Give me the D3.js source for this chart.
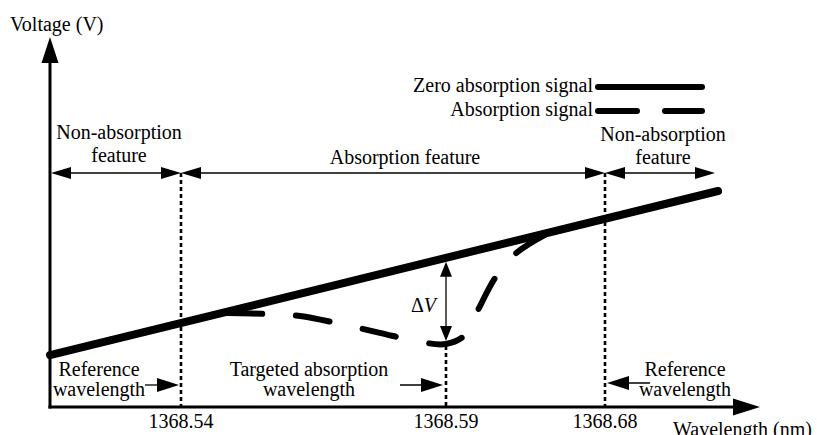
<!DOCTYPE html>
<html>
<head>
<meta charset="utf-8">
<script src="https://cdn.jsdelivr.net/npm/d3@7/dist/d3.min.js"></script>
<style>
  html, body { margin: 0; padding: 0; background: #fff; }
  svg { display: block; }
  text { font-family: "Liberation Serif", "Times New Roman", serif; font-size: 20px; fill: #000; }
</style>
</head>
<body>
<svg id="chart" width="817" height="435"></svg>
<script>
// ---------------- data ----------------
const wlKnots = [1368.50, 1368.54, 1368.59, 1368.68, 1368.72];
const tickWavelengths = [1368.54, 1368.59, 1368.68];
const tickLabels = ["1368.54", "1368.59", "1368.68"];

const zeroWl = [1368.50, 1368.72];
const zeroV = [14.4, 60.0];

const absorbWl = [1368.5489, 1368.5568, 1368.5625, 1368.5700, 1368.5775, 1368.5851, 1368.5900,
                  1368.6008, 1368.6081, 1368.6177, 1368.6291, 1368.6460];
const absorbV = [26.1, 25.8, 25.3, 23.1, 20.6, 18.1, 17.5, 20.0, 26.9, 35.8, 42.5, 47.8];

const legendLabels = ["Zero absorption signal", "Absorption signal"];
const regionLabels = [["Non-absorption", "feature"], ["Absorption feature"], ["Non-absorption", "feature"]];
const refLabels = [["Reference", "wavelength"], ["Targeted absorption", "wavelength"], ["Reference", "wavelength"]];
const axisTitles = { y: "Voltage (V)", x: "Wavelength (nm)" };

// ---------------- layout ----------------
const svg = d3.select("#chart");
const X0 = 50, Y0 = 407, YTOP = 37, XEND = 760;
const x = d3.scaleLinear().domain(wlKnots).range([50, 181, 446, 605, 718]);
const y = d3.scaleLinear().domain([0, 100]).range([407, 47]);

function tri(points) {
  svg.append("path").attr("d", "M" + points.map(p => p.join(",")).join("L") + "Z").attr("fill", "#000");
}
function arrowHead(tx, ty, dir, len, half) {
  if (dir === "r") tri([[tx, ty], [tx - len, ty - half], [tx - len, ty + half]]);
  if (dir === "l") tri([[tx, ty], [tx + len, ty - half], [tx + len, ty + half]]);
  if (dir === "u") tri([[tx, ty], [tx - half, ty + len], [tx + half, ty + len]]);
  if (dir === "d") tri([[tx, ty], [tx - half, ty - len], [tx + half, ty - len]]);
}

// axes
svg.append("line").attr("x1", X0).attr("x2", X0).attr("y1", Y0 + 1.5).attr("y2", YTOP + 20)
  .attr("stroke", "#000").attr("stroke-width", 3);
arrowHead(X0, YTOP, "u", 26, 8.5);
svg.append("line").attr("x1", X0 - 1.5).attr("x2", XEND - 20).attr("y1", Y0).attr("y2", Y0)
  .attr("stroke", "#000").attr("stroke-width", 3);
arrowHead(XEND, Y0, "r", 27, 8.5);

svg.append("text").attr("x", 10).attr("y", 31).text(axisTitles.y);
svg.append("text").attr("x", 673).attr("y", 436).text(axisTitles.x);

// tick labels
tickWavelengths.forEach((w, i) => {
  svg.append("text").attr("x", x(w)).attr("y", 428).attr("text-anchor", "middle").text(tickLabels[i]);
});

// dotted vertical markers
const dotted = { stroke: "#000", "stroke-width": 2.6, "stroke-dasharray": "4 3" };
function vdot(xp, y1, y2) {
  const l = svg.append("line").attr("x1", xp).attr("x2", xp).attr("y1", y1).attr("y2", y2);
  Object.entries(dotted).forEach(([k, v]) => l.attr(k, v));
}
const ROW = 173;
vdot(x(tickWavelengths[0]), ROW, Y0);
vdot(x(tickWavelengths[2]), ROW, Y0);
const minV = d3.min(absorbV);
vdot(x(tickWavelengths[1]), y(minV) + 2, Y0);

// feature double arrows
const spans = [[wlKnots[0], wlKnots[1]], [wlKnots[1], wlKnots[3]], [wlKnots[3], wlKnots[4]]];
spans.forEach(([a, b], i) => {
  const xa = x(a) + (i === 0 ? 1 : 0), xb = x(b) - (i === 2 ? 3 : 0);
  svg.append("line").attr("x1", xa + 5).attr("x2", xb - 5).attr("y1", ROW).attr("y2", ROW)
    .attr("stroke", "#000").attr("stroke-width", 1.3);
  arrowHead(xa, ROW, "l", 20, 6);
  arrowHead(xb, ROW, "r", 20, 6);
});
const regionPos = [{ cx: 119, b: [139, 162] }, { cx: 405, b: [164] }, { cx: 663, b: [141, 164] }];
regionLabels.forEach((lines, i) => {
  lines.forEach((t, j) => {
    svg.append("text").attr("x", regionPos[i].cx).attr("y", regionPos[i].b[j])
      .attr("text-anchor", "middle").text(t);
  });
});

// legend
const legY = [87, 111];
legendLabels.forEach((t, i) => {
  svg.append("text").attr("x", 593).attr("y", legY[i] + 4.5).attr("text-anchor", "end").text(t);
  const l = svg.append("line").attr("x1", 598).attr("x2", 702).attr("y1", legY[i]).attr("y2", legY[i])
    .attr("stroke", "#000").attr("stroke-width", 6).attr("stroke-linecap", "round");
  if (i === 1) l.attr("stroke-dasharray", "39 28");
});

// zero absorption line
const zeroLine = d3.line().x(d => x(d[0])).y(d => y(d[1]));
svg.append("path").attr("d", zeroLine(zeroWl.map((w, i) => [w, zeroV[i]])))
  .attr("fill", "none").attr("stroke", "#000").attr("stroke-width", 8).attr("stroke-linecap", "round");

// absorption signal: six dashes spread over the whole curve
const absLine = d3.line().x(d => x(d[0])).y(d => y(d[1])).curve(d3.curveCatmullRom.alpha(0.5));
const absPath = svg.append("path").attr("d", absLine(absorbWl.map((w, i) => [w, absorbV[i]])))
  .attr("fill", "none").attr("stroke", "#000").attr("stroke-width", 6)
  .attr("stroke-linecap", "round");
const L = absPath.node().getTotalLength();
const nDash = 6, dashLen = 34;
const gapLen = (L - nDash * dashLen) / (nDash - 1);
absPath.attr("stroke-dasharray", dashLen + " " + gapLen);

// ΔV arrow
const wlT = tickWavelengths[1];
const zeroAtT = zeroV[0] + (zeroV[1] - zeroV[0]) * (x(wlT) - x(zeroWl[0])) / (x(zeroWl[1]) - x(zeroWl[0]));
const topY = y(zeroAtT) + 4, botY = y(minV) - 3;
svg.append("line").attr("x1", x(wlT)).attr("x2", x(wlT)).attr("y1", topY + 10).attr("y2", botY - 10)
  .attr("stroke", "#000").attr("stroke-width", 1.3);
arrowHead(x(wlT), topY, "u", 15, 6);
arrowHead(x(wlT), botY, "d", 15, 6);
const dv = svg.append("text").attr("x", x(wlT) - 10).attr("y", 312).attr("text-anchor", "end");
dv.append("tspan").text("\u0394");
dv.append("tspan").attr("font-style", "italic").text("V");

// reference wavelength labels & arrows
const refPos = [{ cx: 99 }, { cx: 309 }, { cx: 685 }];
refLabels.forEach((lines, i) => {
  lines.forEach((t, j) => {
    svg.append("text").attr("x", refPos[i].cx).attr("y", j === 0 ? 376 : 396)
      .attr("text-anchor", "middle").text(t);
  });
});
const AR = 385;
svg.append("line").attr("x1", 145).attr("x2", x(tickWavelengths[0]) - 10).attr("y1", AR).attr("y2", AR)
  .attr("stroke", "#000").attr("stroke-width", 1.3);
arrowHead(x(tickWavelengths[0]) - 2, AR, "r", 22, 7);
svg.append("line").attr("x1", 400).attr("x2", x(tickWavelengths[1]) - 10).attr("y1", AR).attr("y2", AR)
  .attr("stroke", "#000").attr("stroke-width", 1.3);
arrowHead(x(tickWavelengths[1]) - 3, AR, "r", 22, 7);
svg.append("line").attr("x1", 650).attr("x2", x(tickWavelengths[2]) + 10).attr("y1", AR - 2).attr("y2", AR - 2)
  .attr("stroke", "#000").attr("stroke-width", 1.3);
arrowHead(x(tickWavelengths[2]) + 2, AR - 2, "l", 22, 7);
</script>
</body>
</html>
